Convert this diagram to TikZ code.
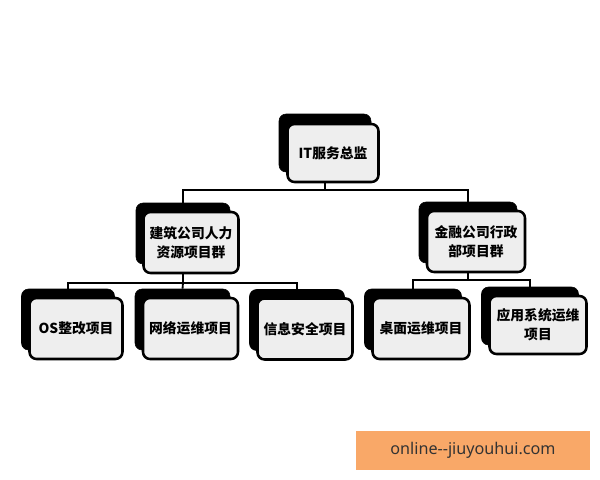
\documentclass[tikz,border=0pt]{standalone}
\usepackage{fontspec}
\newfontfamily\cjk{Noto Sans CJK SC}
\newfontfamily\wmfont{Noto Sans}
\definecolor{wmorange}{HTML}{F9A868}
\definecolor{frontfill}{HTML}{EEEEEE}
\begin{document}
\begin{tikzpicture}[x=0.025cm,y=-0.025cm,
  shbox/.style={fill=black,draw=black,rounded corners=5pt,minimum width=#1*0.025cm,minimum height=61*0.025cm,inner sep=0pt},
  shbox/.default=94,
  frbox/.style={fill=frontfill,draw=black,line width=1.8pt,rounded corners=5pt,minimum width=#1*0.025cm,minimum height=61*0.025cm,inner sep=2pt,align=center,font=\cjk\bfseries\fontsize{9.8}{13.5}\selectfont},
  frbox/.default=94,
  conn/.style={line width=1.3pt,draw=black}]
\useasboundingbox (0,0) rectangle (600,480);
\fill[white] (0,0) rectangle (600,480);
\coordinate (bus0) at (0,190);
\coordinate (bus1) at (0,283);
\coordinate (bus2) at (0,280);
% shadow boxes
\node[shbox=92,minimum height=58*0.025cm] (s0) at (325,143) {};
\node[shbox=94] (s1) at (183,233.5) {};
\node[shbox=98] (s2) at (468,232.5) {};
\node[shbox=93] (s3) at (68,319.5) {};
\node[shbox=95] (s4) at (182.5,319.5) {};
\node[shbox=95] (s5) at (297,320) {};
\node[shbox=97] (s6) at (413,319.5) {};
\node[shbox=97,minimum height=58*0.025cm] (s7) at (530,316) {};
% connectors
\draw[conn] (s0.south) -- (s0.south |- bus0) -| (s1.north);
\draw[conn] (s0.south |- bus0) -| (s2.north);
\draw[conn] (s1.south) -- (s1.south |- bus1) -| (s3.north);
\draw[conn] (s1.south |- bus1) -| (s5.north);
\draw[conn] (s1.south |- bus1) -- (s4.north);
\draw[conn] (s2.south) -- (s2.south |- bus2) -| (s6.north);
\draw[conn] (s2.south |- bus2) -| (s7.north);
% front boxes
\node[frbox=91,minimum height=58*0.025cm] (f0) at (333,153) {IT服务总监};
\node[frbox=95] (f1) at ([shift={(8,9)}]s1.center) {建筑公司人力\\资源项目群};
\node[frbox=98] (f2) at ([shift={(8,9)}]s2.center) {金融公司行政\\部项目群};
\node[frbox=93] (f3) at ([shift={(8,9)}]s3.center) {OS整改项目};
\node[frbox=95] (f4) at ([shift={(8,9)}]s4.center) {网络运维项目};
\node[frbox=95] (f5) at ([shift={(8,9)}]s5.center) {信息安全项目};
\node[frbox=97] (f6) at ([shift={(8,9)}]s6.center) {桌面运维项目};
\node[frbox=97,minimum height=58*0.025cm] (f7) at ([shift={(8,9)}]s7.center) {应用系统运维\\项目};
% watermark
\node[fill=wmorange,minimum width=234*0.025cm,minimum height=39*0.025cm,inner sep=0pt,text=black!80,font=\wmfont\fontsize{11.5}{13}\selectfont] (wm) at (473,450.5) {online--jiuyouhui.com};
\end{tikzpicture}
\end{document}
